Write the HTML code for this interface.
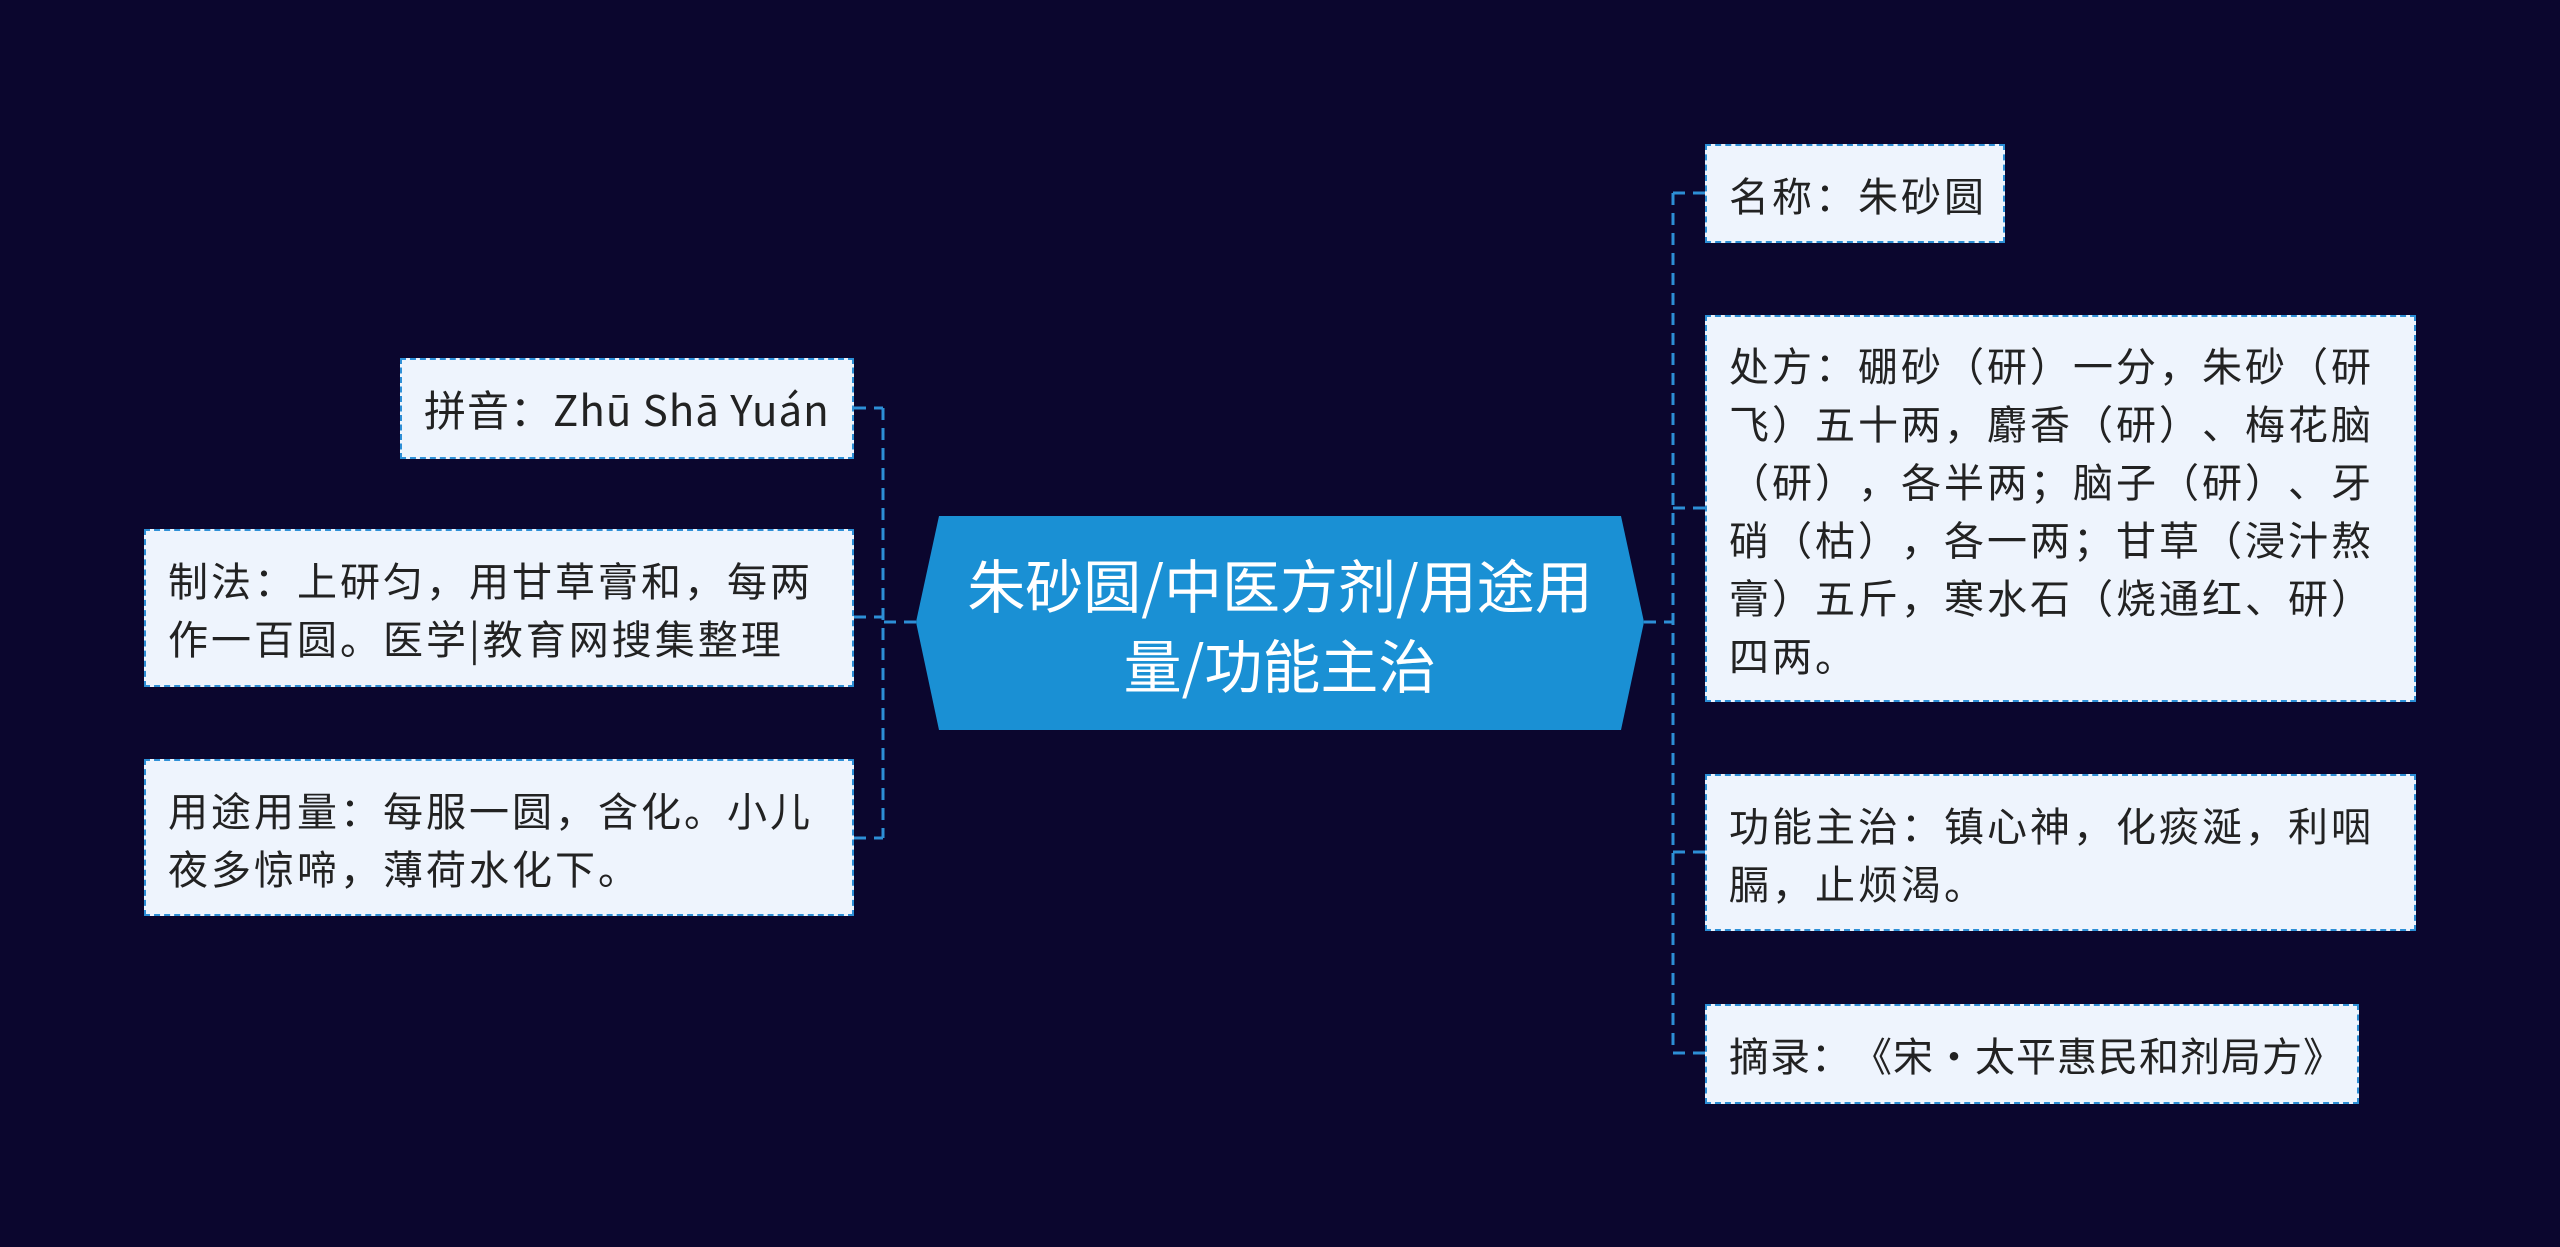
<!DOCTYPE html>
<html><head><meta charset="utf-8"><style>
body{margin:0;width:2560px;height:1247px;background:#0b062e;position:relative;overflow:hidden;font-family:"Noto Sans CJK SC","Liberation Sans",sans-serif}
.b{position:absolute;box-sizing:border-box;background:#eef4fd;border:2px dashed #2d8fd6;color:#222;font-size:40px;letter-spacing:3px;line-height:58px;padding:6px 22px;display:flex;align-items:center;white-space:nowrap;text-spacing-trim:space-all}
.ct{position:absolute;left:916px;top:516px;width:728px;height:214px;display:flex;align-items:center;justify-content:center;text-align:center;color:#fff;font-size:58px;line-height:80px}
</style></head><body>
<svg width="2560" height="1247" style="position:absolute;left:0;top:0">
<polygon points="939,516 1621,516 1644,622 1621,730 939,730 916,622" fill="#1a90d4"/>
<g stroke="#2d8fd6" stroke-width="3" stroke-dasharray="12,8" fill="none">
<path d="M916 622 H883 M883 408 V838 M854 408 H883 M854 617 H883 M854 838 H883"/>
<path d="M1644 622 H1673 M1673 193 V1053 M1673 193 H1705 M1673 508 H1705 M1673 852 H1705 M1673 1053 H1705"/>
</g>
</svg>
<div class="ct">朱砂圆/中医方剂/用途用<br>量/功能主治</div>
<div class="b" style="left:400px;top:358px;width:454px;height:101px;font-size:42px;letter-spacing:1px">拼音：Zhū Shā Yuán</div>
<div class="b" style="left:144px;top:529px;width:710px;height:158px">制法：上研匀，用甘草膏和，每两<br>作一百圆。医学|教育网搜集整理</div>
<div class="b" style="left:144px;top:759px;width:710px;height:157px">用途用量：每服一圆，含化。小儿<br>夜多惊啼，薄荷水化下。</div>
<div class="b" style="left:1705px;top:144px;width:300px;height:99px;letter-spacing:3px">名称：朱砂圆</div>
<div class="b" style="left:1705px;top:315px;width:711px;height:387px">处方：硼砂（研）一分，朱砂（研<br>飞）五十两，麝香（研）、梅花脑<br>（研），各半两；脑子（研）、牙<br>硝（枯），各一两；甘草（浸汁熬<br>膏）五斤，寒水石（烧通红、研）<br>四两。</div>
<div class="b" style="left:1705px;top:774px;width:711px;height:157px">功能主治：镇心神，化痰涎，利咽<br>膈，止烦渴。</div>
<div class="b" style="left:1705px;top:1004px;width:654px;height:100px;letter-spacing:1px">摘录：《宋·太平惠民和剂局方》</div>
</body></html>
